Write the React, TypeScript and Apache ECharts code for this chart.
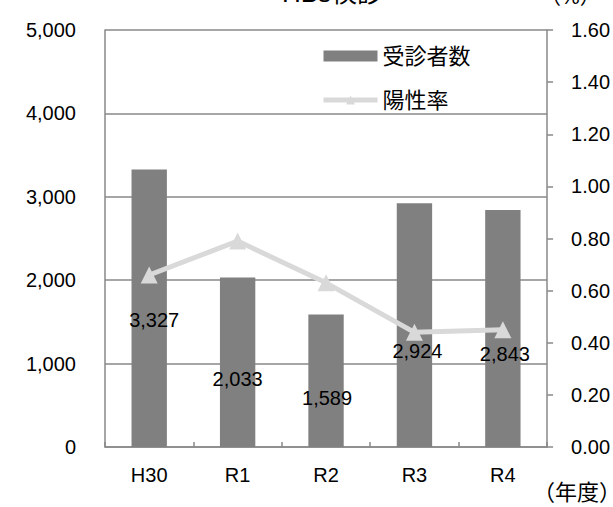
import React, { useEffect, useRef } from "react";
import * as echarts from "echarts";

const categories = ["H30", "R1", "R2", "R3", "R4"];
const examinees = [3327, 2033, 1589, 2924, 2843];
const positiveRate = [0.66, 0.79, 0.63, 0.44, 0.45];
const leftTicks = [0, 1000, 2000, 3000, 4000, 5000];
const rightTicks = [0, 0.2, 0.4, 0.6, 0.8, 1.0, 1.2, 1.4, 1.6];

const FONT = "'Liberation Sans', Arial, 'Noto Sans CJK JP', sans-serif";
const GRID = "#898989";

export default function App() {
  const ref = useRef<HTMLDivElement>(null);
  useEffect(() => {
    if (!ref.current) return;
    const chart = echarts.init(ref.current, null, { renderer: "svg" });
    // label placement (px from bar top, px horizontal shift) as in reference
    const labelPlace = [
      [150, 5],
      [102, 0],
      [84, 1],
      [148, 3],
      [144, 2],
    ];
    chart.setOption({
      animation: false,
      textStyle: { fontFamily: FONT },
      graphic: [
        {
          type: "text",
          left: 282,
          top: -20,
          style: { text: "HBs検診", font: `26px ${FONT}`, fill: "#000" },
        },
        {
          type: "text",
          left: 540,
          top: -14,
          style: { text: "（%）", font: `21px ${FONT}`, fill: "#000" },
        },
        {
          type: "text",
          left: 533,
          top: 481,
          style: { text: "（年度）", font: `22px ${FONT}`, fill: "#000" },
        },
      ],
      legend: {
        orient: "vertical",
        left: 316,
        top: 40,
        itemGap: 22,
        itemWidth: 54,
        itemHeight: 11,
        textStyle: { fontSize: 22, color: "#000", fontFamily: FONT },
        data: [
          { name: "受診者数", icon: "rect" },
          { name: "陽性率", lineStyle: { width: 5, color: "#d9d9d9" } },
        ],
      },
      grid: { left: 105, right: 60, top: 30, bottom: 60, containLabel: false },
      xAxis: {
        type: "category",
        data: categories,
        axisLine: { lineStyle: { color: GRID, width: 1.5 } },
        axisTick: { show: true, inside: true, length: 5, lineStyle: { color: GRID, width: 1.5 } },
        axisLabel: { color: "#000", fontSize: 20, margin: 18, fontFamily: FONT },
      },
      yAxis: [
        {
          type: "value",
          min: 0,
          max: 5000,
          interval: 1000,
          axisLine: { show: true, lineStyle: { color: GRID, width: 1.5 } },
          axisTick: { show: false },
          splitLine: { show: true, lineStyle: { color: GRID, width: 1.5 } },
          axisLabel: {
            color: "#000",
            fontSize: 20,
            margin: 29,
            fontFamily: FONT,
            formatter: (v: number) =>
              leftTicks.includes(v) ? v.toLocaleString("en-US") : "",
          },
        },
        {
          type: "value",
          min: 0,
          max: 1.6,
          interval: 0.2,
          position: "right",
          axisLine: { show: true, lineStyle: { color: GRID, width: 1.5 } },
          axisTick: { show: true, length: 6, lineStyle: { color: GRID, width: 1.5 } },
          splitLine: { show: false },
          axisLabel: {
            color: "#000",
            fontSize: 20,
            margin: 24,
            fontFamily: FONT,
            formatter: (v: number) => {
              const t = rightTicks.find((r) => Math.abs(r - v) < 1e-6);
              return t === undefined ? "" : t.toFixed(2);
            },
          },
        },
      ],
      series: [
        {
          name: "受診者数",
          type: "bar",
          yAxisIndex: 0,
          barWidth: "40%",
          itemStyle: { color: "#808080" },
          data: examinees.map((v, i) => ({
            value: v,
            label: {
              show: true,
              position: ["50%", labelPlace[i][0]],
              offset: [labelPlace[i][1], 0],
              align: "center",
              verticalAlign: "middle",
              fontSize: 20,
              color: "#000",
              fontFamily: FONT,
              formatter: (p: any) => Number(p.value).toLocaleString("en-US"),
            },
          })),
        },
        {
          name: "陽性率",
          type: "line",
          yAxisIndex: 1,
          data: positiveRate,
          symbol: "triangle",
          symbolSize: 17,
          lineStyle: { color: "#d9d9d9", width: 5 },
          itemStyle: { color: "#d9d9d9" },
        },
      ],
    });
    return () => chart.dispose();
  }, []);
  return (
    <div
      ref={ref}
      style={{ position: "fixed", left: 0, top: 0, width: 613, height: 507, background: "#fff" }}
    />
  );
}
